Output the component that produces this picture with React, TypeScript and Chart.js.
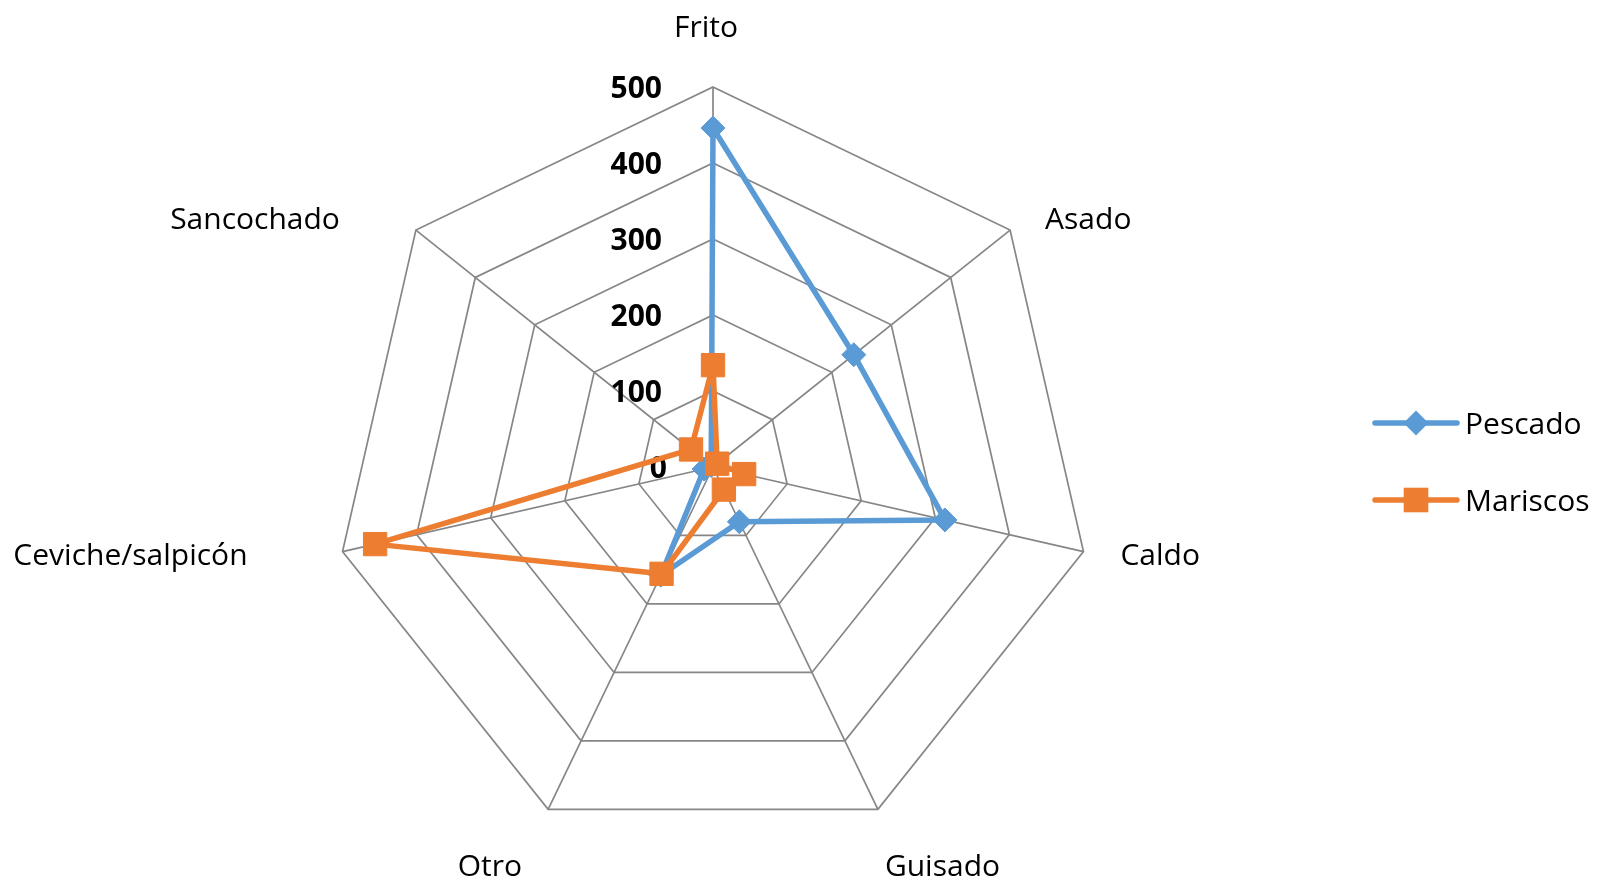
import React, { useEffect, useRef } from "react";
import { Chart, registerables } from "chart.js";

Chart.register(...registerables);

// ---- data ----
const categories = ["Frito", "Asado", "Caldo", "Guisado", "Otro", "Ceviche/salpicón", "Sancochado"];
const seriesNames = ["Pescado", "Mariscos"];
const pescado = [446, 237, 313, 80, 158, 12, 3];
const mariscos = [134, 7, 42, 33, 156, 456, 37];
const tickValues = [0, 100, 200, 300, 400, 500];

// ---- styles ----
const BLUE = "#5B9BD5";
const ORANGE = "#ED7D31";
const GRID = "#868686";
const FONT_FAMILY = "'Open Sans', 'Noto Sans', sans-serif";
const FONT_SIZE = 30;
const LINE_W = 5.5;

// label placement relative to the outer-ring vertex of each axis (style only)
const labelStyle = [
  { align: "center", dx: -7, dy: -50 },
  { align: "left", dx: 35, dy: -1 },
  { align: "left", dx: 37, dy: 13 },
  { align: "left", dx: 7, dy: 67 },
  { align: "right", dx: -26, dy: 67 },
  { align: "right", dx: -95, dy: 13 },
  { align: "right", dx: -76, dy: -1 },
];

const legendStyle = { lineX0: 1375, lineX1: 1457, textX: 1465, y0: 423, dy: 77 };

const overlayPlugin = {
  id: "excelOverlay",
  beforeDatasetsDraw(chart: any) {
    const ctx = chart.ctx;
    const scale = chart.scales.r;
    ctx.save();
    ctx.fillStyle = "#000";
    ctx.font = `bold ${FONT_SIZE}px ${FONT_FAMILY}`;
    ctx.textAlign = "right";
    ctx.textBaseline = "alphabetic";
    tickValues.forEach((v) => {
      const d = scale.getDistanceFromCenterForValue(v);
      const p = scale.getPointPosition(0, d);
      const shift = v === 0 ? 5 : 0;
      ctx.fillText(String(v), p.x - 51 + shift, p.y + 10.7);
    });
    ctx.restore();
  },
  afterDraw(chart: any) {
    const ctx = chart.ctx;
    const scale = chart.scales.r;
    ctx.save();
    ctx.fillStyle = "#000";
    ctx.font = `${FONT_SIZE}px ${FONT_FAMILY}`;
    ctx.textBaseline = "alphabetic";
    (chart.data.labels as string[]).forEach((lab, i) => {
      const p = scale.getPointPosition(i, scale.drawingArea);
      const st = labelStyle[i];
      ctx.textAlign = st.align;
      ctx.fillText(lab, p.x + st.dx, p.y + st.dy);
    });

    // legend
    chart.data.datasets.forEach((ds: any, i: number) => {
      const y = legendStyle.y0 + i * legendStyle.dy;
      ctx.strokeStyle = ds.borderColor;
      ctx.lineWidth = LINE_W;
      ctx.lineCap = "round";
      ctx.beginPath();
      ctx.moveTo(legendStyle.lineX0, y);
      ctx.lineTo(legendStyle.lineX1, y);
      ctx.stroke();
      const cx = (legendStyle.lineX0 + legendStyle.lineX1) / 2;
      ctx.fillStyle = ds.borderColor;
      ctx.beginPath();
      if (ds.pointStyle === "rectRot") {
        const r = 12.5;
        ctx.moveTo(cx - r, y);
        ctx.lineTo(cx, y - r);
        ctx.lineTo(cx + r, y);
        ctx.lineTo(cx, y + r);
      } else {
        const h = 12.3;
        ctx.rect(cx - h, y - h, 2 * h, 2 * h);
      }
      ctx.closePath();
      ctx.fill();
      ctx.fillStyle = "#000";
      ctx.textAlign = "left";
      ctx.fillText(ds.label, legendStyle.textX, y + 10.7);
    });
    ctx.restore();
  },
};

export default function App() {
  const ref = useRef<HTMLCanvasElement | null>(null);

  useEffect(() => {
    document.body.style.margin = "0";
    const canvas = ref.current;
    if (!canvas) return;
    const chart = new Chart(canvas, {
      type: "radar",
      data: {
        labels: categories,
        datasets: [
          {
            label: seriesNames[0],
            data: pescado,
            borderColor: BLUE,
            backgroundColor: BLUE,
            pointBackgroundColor: BLUE,
            pointBorderColor: BLUE,
            pointBorderWidth: 1,
            pointStyle: "rectRot",
            pointRadius: 12,
            borderWidth: LINE_W,
            borderJoinStyle: "round",
            fill: false,
            order: 1,
          },
          {
            label: seriesNames[1],
            data: mariscos,
            borderColor: ORANGE,
            backgroundColor: ORANGE,
            pointBackgroundColor: ORANGE,
            pointBorderColor: ORANGE,
            pointBorderWidth: 1,
            pointStyle: "rect",
            pointRadius: 16.5,
            borderWidth: LINE_W,
            borderJoinStyle: "round",
            fill: false,
            order: 0,
          },
        ],
      },
      options: {
        responsive: false,
        animation: false,
        devicePixelRatio: 1,
        layout: { padding: { left: 333, top: 87, right: 524, bottom: 43 } },
        elements: { line: { tension: 0 } },
        plugins: { legend: { display: false }, tooltip: { enabled: false } },
        scales: {
          r: {
            min: 0,
            max: 500,
            ticks: { display: false, stepSize: 100 },
            pointLabels: { display: false },
            grid: { color: GRID, lineWidth: 1.7 },
            angleLines: { color: GRID, lineWidth: 1.7 },
          },
        },
      },
      plugins: [overlayPlugin],
    } as any);
    return () => chart.destroy();
  }, []);

  return (
    <div style={{ width: 1617, height: 890, background: "#fff" }}>
      <canvas ref={ref} width={1617} height={890} style={{ display: "block" }} />
    </div>
  );
}
